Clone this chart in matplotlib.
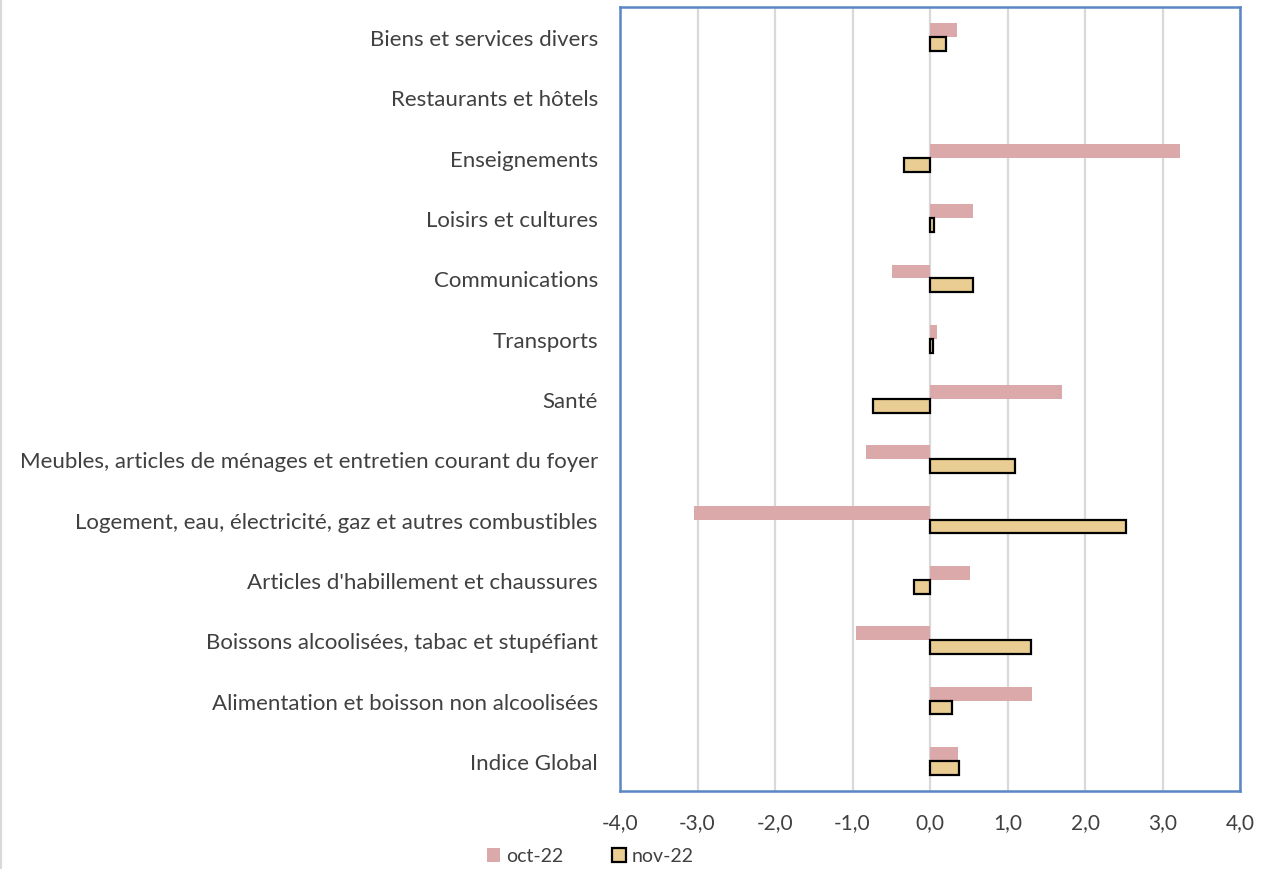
import matplotlib.pyplot as plt
import numpy as np
from matplotlib.lines import Line2D
from matplotlib.ticker import FuncFormatter

plt.rcParams['font.family'] = ['Lato', 'DejaVu Sans']

# categories, bottom to top
categories = [
    "Indice Global",
    "Alimentation et boisson non alcoolisées",
    "Boissons alcoolisées, tabac et stupéfiant",
    "Articles d'habillement et chaussures",
    "Logement, eau, électricité, gaz et autres combustibles",
    "Meubles, articles de ménages et entretien courant du foyer",
    "Santé",
    "Transports",
    "Communications",
    "Loisirs et cultures",
    "Enseignements",
    "Restaurants et hôtels",
    "Biens et services divers",
]
oct_22 = [0.36, 1.32, -0.95, 0.52, -3.05, -0.83, 1.70, 0.09, -0.49, 0.55, 3.22, 0.0, 0.35]
nov_22 = [0.37, 0.29, 1.30, -0.21, 2.53, 1.10, -0.74, 0.04, 0.55, 0.05, -0.33, 0.0, 0.20]
xticks = [-4, -3, -2, -1, 0, 1, 2, 3, 4]

text_col = "#404040"
pink = "#DBA9AA"
tan = "#E9CD92"
frame_blue = "#5B87C5"

fig = plt.figure(figsize=(12.68, 8.7), dpi=100)
ax = fig.add_axes([620 / 1268, 1 - 792 / 870, 620 / 1268, 784 / 870])

y = np.arange(len(categories))
h = 0.23
ax.barh(y + h / 2, oct_22, height=h, color=pink, label="oct-22", zorder=3)
# no outline on empty bars
lw = [0 if v == 0 else 1.6 for v in nov_22]
ax.barh(y - h / 2, nov_22, height=h, color=tan, edgecolor="black",
        linewidth=lw, label="nov-22", zorder=3)

ax.set_xlim(-4, 4)
ax.set_ylim(-0.5, len(categories) - 0.5)
ax.set_xticks(xticks)
ax.xaxis.set_major_formatter(FuncFormatter(lambda v, p: f"{v:.1f}".replace(".", ",")))
ax.set_yticks(y)
ax.set_yticklabels(categories)
ax.tick_params(axis="x", length=0, labelsize=15, colors=text_col, pad=15)
ax.tick_params(axis="y", length=0, labelsize=16, colors=text_col, pad=16)

ax.grid(axis="x", color="#D9D9D9", linewidth=1.6, zorder=0)
for s in ax.spines.values():
    s.set_color(frame_blue)
    s.set_linewidth(1.8)

# chart area border on the left edge
fig.add_artist(Line2D([0.001, 0.001], [0, 1], color="#D9D9D9", linewidth=1.5,
                      transform=fig.transFigure))

leg = fig.legend(loc="center", bbox_to_anchor=(590 / 1268, 1 - 857 / 870), ncol=2,
                 frameon=False, fontsize=14, labelcolor=text_col, handlelength=0.7,
                 handleheight=0.7, handletextpad=0.3, columnspacing=2.5)
leg.legend_handles[1].set_linewidth(1.6)

fig.savefig("out.png", dpi=100)
